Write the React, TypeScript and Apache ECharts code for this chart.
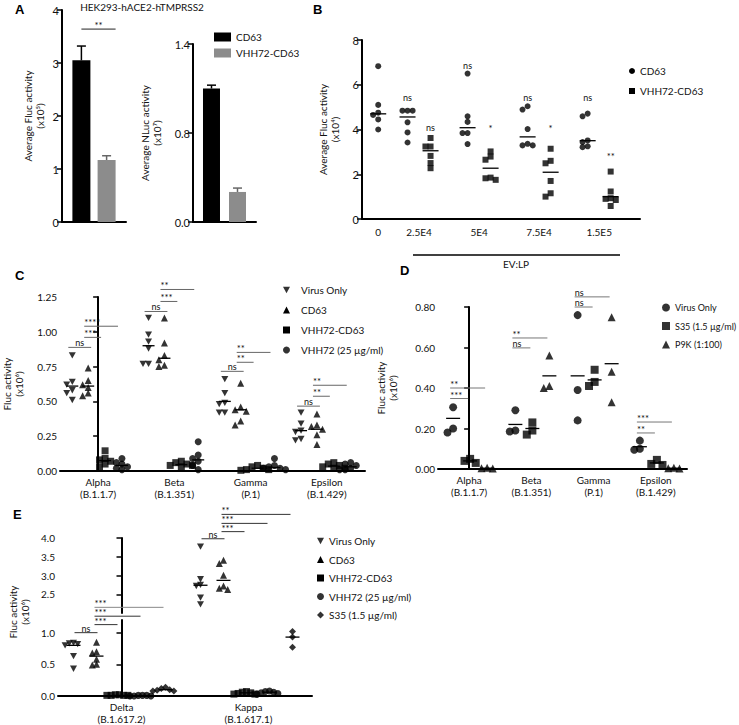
import React, { useEffect, useRef } from 'react';
import * as echarts from 'echarts';

const FONT = 'Lato, "Open Sans", "DejaVu Sans", sans-serif';
const BLACK = '#000';
const GRAY_BAR = '#8c8c8c';
const DOWN = 'path://M0,0L10,0L5,9Z';

// ---------------- Panel A ----------------
const aGroups = ['CD63', 'VHH72-CD63'];
const aFlucMean = [3.05, 1.17];
const aFlucErr = [0.27, 0.08];
const aNlucMean = [1.2, 0.27];
const aNlucErr = [0.03, 0.035];
const aFlucTicks = ['0', '1', '2', '3', '4'];
const aNlucTickLabels = ['0.0', '0.8', '1.4'];
const aTitle = 'HEK293-hACE2-hTMPRSS2';
const aSigY = 3.64;
const aSigLabel = '**';

// ---------------- Panel B ----------------
const bCategories = ['0', '2.5E4', '5E4', '7.5E4', '1.5E5'];
const bSeriesNames = ['CD63', 'VHH72-CD63'];
const bCD63 = [
  [6.83, 5.1, 4.75, 4.65, 4.45, 4.0],
  [4.84, 4.84, 4.84, 4.32, 3.87, 3.42],
  [6.5, 4.59, 4.34, 3.84, 3.84, 3.35],
  [5.04, 4.89, 4.02, 3.36, 3.29, 3.29],
  [4.71, 4.59, 3.51, 3.44, 3.25, 3.21],
];
const bVHH = [
  [],
  [3.62, 3.24, 3.24, 2.82, 2.5, 2.27],
  [3.02, 2.79, 2.65, 1.85, 1.82, 1.75],
  [3.14, 2.6, 2.49, 1.7, 1.15, 1.0],
  [2.12, 1.23, 0.93, 0.9, 0.85, 0.58],
];
const bCD63Median = [4.7, 4.56, 4.08, 3.67, 3.5];
const bVHHMedian = [NaN, 3.05, 2.27, 2.09, 1.0];
const bCD63Sig = ['', 'ns', 'ns', 'ns', 'ns'];
const bCD63SigY = [0, 5.45, 6.9, 5.45, 5.45];
const bVHHSig = ['', 'ns', '*', '*', '**'];
const bVHHSigY = [0, 4.1, 4.1, 4.1, 2.85];
const bXTitle = 'EV:LP';

// ---------------- Panel C ----------------
const cVariants = ['Alpha', 'Beta', 'Gamma', 'Epsilon'];
const cLineages = ['(B.1.1.7)', '(B.1.351)', '(P.1)', '(B.1.429)'];
const cSeriesNames = ['Virus Only', 'CD63', 'VHH72-CD63', 'VHH72 (25 µg/ml)'];
const cVirus = [
  [0.83, 0.64, 0.62, 0.58, 0.56, 0.51],
  [1.1, 0.98, 0.93, 0.88, 0.77, 0.77],
  [0.66, 0.56, 0.49, 0.48, 0.42, 0.42],
  [0.42, 0.34, 0.29, 0.28, 0.23, 0.22],
];
const cCD63 = [
  [0.74, 0.65, 0.62, 0.6, 0.56, 0.54],
  [1.1, 0.92, 0.83, 0.8, 0.76, 0.75],
  [0.63, 0.46, 0.44, 0.43, 0.36, 0.33],
  [0.41, 0.33, 0.32, 0.3, 0.26, 0.19],
];
const cVHHCD63 = [
  [0.145, 0.09, 0.08, 0.07, 0.05, 0.03],
  [0.07, 0.06, 0.05, 0.04, 0.04, 0.03],
  [0.04, 0.03, 0.02, 0.01, 0.01, 0.005],
  [0.06, 0.05, 0.04, 0.03, 0.02, 0.02],
];
const cVHH72 = [
  [0.09, 0.06, 0.05, 0.03, 0.02, 0.01],
  [0.21, 0.115, 0.09, 0.07, 0.04, 0.01],
  [0.09, 0.04, 0.03, 0.02, 0.02, 0.01],
  [0.06, 0.05, 0.04, 0.02, 0.01, 0.01],
];
const cMedVirus = [0.61, 0.9, 0.5, 0.29];
const cMedCD63 = [0.61, 0.81, 0.44, 0.3];
const cMedVHHCD63 = [0.075, 0.045, 0.02, 0.035];
const cMedVHH72 = [0.04, 0.08, 0.025, 0.03];
// [variant, from series, to series, y, label]
const cBrackets: any[] = [
  [0, 0, 1, 0.888, 'ns'], [0, 1, 2, 0.96, '***'], [0, 1, 3, 1.04, '****'],
  [1, 0, 1, 1.146, 'ns'], [1, 1, 2, 1.218, '***'], [1, 1, 3, 1.304, '**'],
  [2, 0, 1, 0.716, 'ns'], [2, 1, 2, 0.781, '**'], [2, 1, 3, 0.852, '**'],
  [3, 0, 1, 0.466, 'ns'], [3, 1, 2, 0.537, '**'], [3, 1, 3, 0.616, '**'],
];

// ---------------- Panel D ----------------
const dVariants = ['Alpha', 'Beta', 'Gamma', 'Epsilon'];
const dLineages = ['(B.1.1.7)', '(B.1.351)', '(P.1)', '(B.1.429)'];
const dSeriesNames = ['Virus Only', 'S35 (1.5 µg/ml)', 'P9K (1:100)'];
const dVirus = [[0.305, 0.2, 0.18], [0.29, 0.19, 0.185], [0.76, 0.39, 0.24], [0.14, 0.1, 0.095]];
const dS35 = [[0.05, 0.04, 0.03], [0.23, 0.19, 0.17], [0.49, 0.43, 0.41], [0.045, 0.025, 0.02]];
const dP9K = [[0.006, 0.004, 0.002], [0.56, 0.41, 0.4], [0.75, 0.48, 0.33], [0.006, 0.004, 0.002]];
const dMeanVirus = [0.25, 0.22, 0.46, 0.11];
const dMeanS35 = [0.04, 0.2, 0.44, 0.03];
const dMeanP9K = [0.004, 0.46, 0.52, 0.004];
const dBrackets: any[] = [
  [0, 0, 2, 0.4, '**'], [0, 0, 1, 0.348, '***'],
  [1, 0, 2, 0.647, '**'], [1, 0, 1, 0.598, 'ns'],
  [2, 0, 2, 0.85, 'ns'], [2, 0, 1, 0.8, 'ns'],
  [3, 0, 2, 0.232, '***'], [3, 0, 1, 0.178, '**'],
];

// ---------------- Panel E ----------------
const eVariants = ['Delta', 'Kappa'];
const eLineages = ['(B.1.617.2)', '(B.1.617.1)'];
const eSeriesNames = ['Virus Only', 'CD63', 'VHH72-CD63', 'VHH72 (25 µg/ml)', 'S35 (1.5 µg/ml)'];
const eVirus = [[0.84, 0.83, 0.82, 0.8, 0.63, 0.43], [3.77, 2.9, 2.75, 2.72, 2.41, 2.23]];
const eCD63 = [[0.85, 0.7, 0.68, 0.58, 0.5, 0.49], [3.41, 3.32, 3.01, 2.72, 2.66, 2.63]];
const eVHHCD63 = [[0.02, 0.02, 0.01, 0.01, 0.01, 0.01], [0.07, 0.06, 0.05, 0.04, 0.03, 0.03]];
const eVHH72 = [[0.01, 0.01, 0.01, 0.0, 0.0, 0.0], [0.08, 0.07, 0.06, 0.05, 0.04, 0.03]];
const eS35 = [[0.14, 0.12, 0.1, 0.09, 0.08, 0.08], [1.02, 0.93, 0.77]];
const eMedVirus = [0.8, 2.74];
const eMedCD63 = [0.63, 2.87];
const eMedVHHCD63 = [0.01, 0.05];
const eMedVHH72 = [0.005, 0.06];
const eMedS35 = [0.1, 0.93];
const eBracketsLower: any[] = [
  [0, 0, 1, 1.0, 'ns'], [0, 1, 2, 1.127, '***'], [0, 1, 3, 1.26, '***'], [0, 1, 4, 1.4, '***'],
];
const eBracketsUpper: any[] = [
  [1, 0, 1, 3.98, 'ns'], [1, 1, 2, 4.17, '***'], [1, 1, 3, 4.39, '***'], [1, 1, 4, 4.63, '**'],
];

// ---------------- layout constants ----------------
const bGroupPos = [0.32, 1, 2, 3, 4];
const B_PXX = 60, B_PXY = 22.35;
const C_PXX = 76.75, C_PXY = 139.6;
const D_PXX = 62.25, D_PXY = 202.5;
const E_PXX = 127, E_PXY_UP = 37.5, E_PXY_LOW = 63.3;
const cColPx = [-26, -10, 7, 24];
const dColPx = [-16, 1, 18];
const eColPx = [-48, -25, -2, 21, 44];

function swarm(vals: number[], pxPerY: number, size: number, k: number): number[] {
  const order = vals.map((_, i) => i).sort((a, b) => vals[b] - vals[a]);
  const placed: number[][] = [];
  const out = new Array(vals.length).fill(0);
  const steps = [0, -1, 1, -2, 2, -3, 3, -4, 4, -5, 5];
  const d = size * k;
  for (const i of order) {
    const y = vals[i] * pxPerY;
    for (const s of steps) {
      const x = s * d;
      if (placed.every((p) => Math.hypot(p[0] - x, p[1] - y) >= d * 0.98)) {
        out[i] = x;
        placed.push([x, y]);
        break;
      }
    }
  }
  return out;
}

function points(groups: number[][], centers: number[], colPx: (g: number) => number, pxX: number, pxY: number, size: number, k: number, keep: (v: number) => boolean = () => true) {
  const data: number[][] = [];
  groups.forEach((vals, g) => {
    const sel = vals.filter(keep);
    const offs = swarm(sel, pxY, size, k);
    sel.forEach((v, i) => data.push([centers[g] + (colPx(g) + offs[i]) / pxX, v]));
  });
  return data;
}

function medianSeries(xi: number, yi: number, pts: number[][], hw: number) {
  return {
    type: 'custom', xAxisIndex: xi, yAxisIndex: yi, clip: false, silent: true, z: 3,
    data: pts,
    renderItem: (_p: any, api: any) => {
      const c = api.coord([api.value(0), api.value(1)]);
      return { type: 'line', shape: { x1: c[0] - hw, y1: c[1], x2: c[0] + hw, y2: c[1] }, style: { stroke: BLACK, lineWidth: 1.3 } };
    },
  };
}

function sigText(x: number, y: number, label: string, align: string) {
  const star = label.includes('*');
  return {
    type: 'text', x, y: y + (star ? 1.5 : 0.5),
    style: { text: label, fill: '#111', font: `${star ? 9.5 : 9}px ${FONT}`, lineHeight: 7, align, verticalAlign: 'middle' },
  };
}

function bracketSeries(xi: number, yi: number, defs: any[], colPx: number[], pxX: number, cfg: any) {
  const items = defs.map((d, i) => {
    const [g, f, t, y, label] = d;
    const ns = label === 'ns';
    return {
      x1: g + (colPx[f] + (ns ? cfg.nsPadL : cfg.padL)) / pxX,
      x2: g + (colPx[t] + (ns ? cfg.nsPadR : cfg.padR)) / pxX,
      y, label,
      align: ns ? cfg.nsAlign : 'left',
      color: cfg.color(i),
    };
  });
  return {
    type: 'custom', xAxisIndex: xi, yAxisIndex: yi, clip: false, silent: true, z: 4,
    data: items.map((b) => [b.x1, b.y, b.x2]),
    renderItem: (p: any, api: any) => {
      const b = items[p.dataIndex];
      const a = api.coord([b.x1, b.y]);
      const c = api.coord([b.x2, b.y]);
      return {
        type: 'group',
        children: [
          { type: 'line', shape: { x1: a[0], y1: a[1], x2: c[0], y2: a[1] }, style: { stroke: b.color, lineWidth: 1 } },
          sigText(b.align === 'center' ? (a[0] + c[0]) / 2 : a[0], a[1] - 5, b.label, b.align),
        ],
      };
    },
  };
}

function yAxis(gridIndex: number, min: number, max: number, interval: number, formatter: any, extra: any = {}, labelExtra: any = {}) {
  return {
    type: 'value', gridIndex, min, max, interval,
    axisLine: { show: true, lineStyle: { color: BLACK, width: 2 } },
    axisTick: { show: true, length: 5, lineStyle: { color: BLACK, width: 1.5 } },
    axisLabel: { color: '#111', fontSize: 10, fontFamily: FONT, margin: 3, formatter, ...labelExtra },
    splitLine: { show: false },
    nameLocation: 'middle', nameRotate: 90,
    nameTextStyle: { color: '#111', fontSize: 10, lineHeight: 12, fontFamily: FONT },
    ...extra,
  };
}

function catX(gridIndex: number, data: string[], showLabel: boolean) {
  return {
    type: 'category', gridIndex, data, boundaryGap: true,
    axisLine: { show: true, lineStyle: { color: BLACK, width: 2 } },
    axisTick: { show: false },
    axisLabel: { show: showLabel, color: '#111', fontSize: 10, fontFamily: FONT, margin: 5, lineHeight: 12, interval: 0 },
    splitLine: { show: false },
  };
}

function hidX(gridIndex: number, min: number, max: number) {
  return { type: 'value', gridIndex, min, max, show: false, splitLine: { show: false } };
}

function legendDef(left: number, top: number, size: number, gap: number, items: any[], textPad = 0, fontSize = 10) {
  return {
    orient: 'vertical', left, top, padding: 0, itemWidth: size, itemHeight: size, itemGap: gap,
    selectedMode: false,
    textStyle: { fontSize, fontFamily: FONT, color: '#111', padding: [0, 0, 0, textPad] },
    data: items,
  };
}

function buildOption() {
  const series: any[] = [];

  // ---- A bars ----
  const aColors = [BLACK, GRAY_BAR];
  const aErrColors = [BLACK, '#666'];
  [0, 1].forEach((i) => {
    series.push({ type: 'bar', name: aGroups[i], xAxisIndex: 0, yAxisIndex: 0, data: [aFlucMean[i]], barWidth: 18, barGap: '40%', itemStyle: { color: aColors[i] } });
  });
  [0, 1].forEach((i) => {
    series.push({ type: 'bar', name: aGroups[i], xAxisIndex: 1, yAxisIndex: 1, data: [aNlucMean[i]], barWidth: 17, barGap: '53%', itemStyle: { color: aColors[i] } });
  });
  const errSeries = (xi: number, means: number[], errs: number[], spacing: number) => ({
    type: 'custom', xAxisIndex: xi, yAxisIndex: xi, clip: false, silent: true, z: 3,
    data: means.map((m, i) => [0, m, m + errs[i], i]),
    renderItem: (_p: any, api: any) => {
      const idx = api.value(3);
      const c0 = api.coord([0, api.value(1)]);
      const c1 = api.coord([0, api.value(2)]);
      const x = c0[0] + (idx - 0.5) * spacing;
      const st = { stroke: aErrColors[idx], lineWidth: 1.5 };
      return {
        type: 'group',
        children: [
          { type: 'line', shape: { x1: x, y1: c0[1], x2: x, y2: c1[1] }, style: st },
          { type: 'line', shape: { x1: x - 4.5, y1: c1[1], x2: x + 4.5, y2: c1[1] }, style: st },
        ],
      };
    },
  });
  series.push(errSeries(0, aFlucMean, aFlucErr, 25.2));
  series.push(errSeries(1, aNlucMean, aNlucErr, 26));
  series.push({
    type: 'custom', xAxisIndex: 0, yAxisIndex: 0, clip: false, silent: true,
    data: [[0, aSigY]],
    renderItem: (_p: any, api: any) => {
      const c = api.coord([0, api.value(1)]);
      const x1 = c[0] - 12.6, x2 = c[0] + 12.6 + 9;
      return {
        type: 'group',
        children: [
          { type: 'line', shape: { x1, y1: c[1], x2, y2: c[1] }, style: { stroke: '#222', lineWidth: 1 } },
          sigText((x1 + x2) / 2, c[1] - 5, aSigLabel, 'center'),
        ],
      };
    },
  });

  // ---- B ----
  const bColOff = (g: number) => (bVHH[g].length ? -11.5 : 0);
  series.push({
    type: 'scatter', name: bSeriesNames[0], xAxisIndex: 2, yAxisIndex: 2, symbol: 'circle', symbolSize: 6,
    itemStyle: { color: BLACK }, data: points(bCD63, bGroupPos, bColOff, B_PXX, B_PXY, 6, 0.85),
  });
  series.push({
    type: 'scatter', name: bSeriesNames[1], xAxisIndex: 2, yAxisIndex: 2, symbol: 'rect', symbolSize: 6,
    itemStyle: { color: BLACK }, data: points(bVHH, bGroupPos, () => 11.5, B_PXX, B_PXY, 6, 0.85),
  });
  series.push(medianSeries(2, 2, bCD63Median.map((m, g) => [bGroupPos[g] + bColOff(g) / B_PXX, m]), 8));
  series.push(medianSeries(2, 2, bVHHMedian.map((m, g) => [bGroupPos[g] + 11.5 / B_PXX, m]).filter((p) => !isNaN(p[1])), 8));
  const bSigItems: any[] = [];
  bCategories.forEach((_c, g) => {
    if (bCD63Sig[g]) bSigItems.push({ x: bGroupPos[g] + bColOff(g) / B_PXX, y: bCD63SigY[g], label: bCD63Sig[g] });
    if (bVHHSig[g]) bSigItems.push({ x: bGroupPos[g] + 11.5 / B_PXX, y: bVHHSigY[g], label: bVHHSig[g] });
  });
  series.push({
    type: 'custom', xAxisIndex: 2, yAxisIndex: 2, clip: false, silent: true, z: 4,
    data: bSigItems.map((s) => [s.x, s.y]),
    renderItem: (p: any, api: any) => {
      const s = bSigItems[p.dataIndex];
      const c = api.coord([s.x, s.y]);
      return sigText(c[0], c[1], s.label, 'center');
    },
  });

  // ---- C ----
  const cAll = [cVirus, cCD63, cVHHCD63, cVHH72];
  const cMed = [cMedVirus, cMedCD63, cMedVHHCD63, cMedVHH72];
  const cSym = [DOWN, 'triangle', 'rect', 'circle'];
  const cCenters = [0, 1, 2, 3];
  cAll.forEach((groups, s) => {
    series.push({
      type: 'scatter', name: cSeriesNames[s], xAxisIndex: 4, yAxisIndex: 3, symbol: cSym[s], symbolSize: 7, symbolKeepAspect: true,
      itemStyle: { color: BLACK }, data: points(groups, cCenters, () => cColPx[s], C_PXX, C_PXY, 7, 0.8),
    });
    series.push(medianSeries(4, 3, cMed[s].map((m, g) => [g + cColPx[s] / C_PXX, m]), 6));
  });
  series.push(bracketSeries(4, 3, cBrackets, cColPx, C_PXX, { padL: -4, padR: -4, nsPadL: -4, nsPadR: 3, nsAlign: 'center', color: () => '#666' }));

  // ---- D ----
  const dAll = [dVirus, dS35, dP9K];
  const dMed = [dMeanVirus, dMeanS35, dMeanP9K];
  const dSym = ['circle', 'rect', 'triangle'];
  dAll.forEach((groups, s) => {
    series.push({
      type: 'scatter', name: dSeriesNames[s], xAxisIndex: 6, yAxisIndex: 4, symbol: dSym[s], symbolSize: 8,
      itemStyle: { color: BLACK }, data: points(groups, cCenters, () => dColPx[s], D_PXX, D_PXY, 8, 0.7),
    });
    series.push(medianSeries(6, 4, dMed[s].map((m, g) => [g + dColPx[s] / D_PXX, m]), 7));
  });
  series.push(bracketSeries(6, 4, dBrackets, dColPx, D_PXX, { padL: -3, padR: -2, nsPadL: -3, nsPadR: -2, nsAlign: 'left', color: () => '#777' }));

  // ---- E ----
  const eAll = [eVirus, eCD63, eVHHCD63, eVHH72, eS35];
  const eMed = [eMedVirus, eMedCD63, eMedVHHCD63, eMedVHH72, eMedS35];
  const eSym = [DOWN, 'triangle', 'rect', 'circle', 'diamond'];
  const eCenters = [0, 1];
  const isUp = (v: number) => v > 1.5;
  eAll.forEach((groups, s) => {
    const up = points(groups, eCenters, () => eColPx[s], E_PXX, E_PXY_UP, 7, 0.6, isUp);
    const low = points(groups, eCenters, () => eColPx[s], E_PXX, E_PXY_LOW, 7, 0.6, (v) => !isUp(v));
    if (up.length) series.push({ type: 'scatter', name: eSeriesNames[s], xAxisIndex: 7, yAxisIndex: 5, symbol: eSym[s], symbolSize: 7, symbolKeepAspect: true, itemStyle: { color: BLACK }, data: up });
    if (low.length) series.push({ type: 'scatter', name: eSeriesNames[s], xAxisIndex: 9, yAxisIndex: 6, symbol: eSym[s], symbolSize: 7, symbolKeepAspect: true, itemStyle: { color: BLACK }, data: low });
    const mp = eMed[s].map((m, g) => [g + eColPx[s] / E_PXX, m]);
    const mu = mp.filter((p) => isUp(p[1]));
    const ml = mp.filter((p) => !isUp(p[1]));
    if (mu.length) series.push(medianSeries(7, 5, mu, 7));
    if (ml.length) series.push(medianSeries(9, 6, ml, 7));
  });
  series.push(bracketSeries(9, 6, eBracketsLower, eColPx, E_PXX, { padL: -2, padR: -2, nsPadL: 1, nsPadR: 1, nsAlign: 'center', color: (i: number) => (i === 3 ? '#888' : '#333') }));
  series.push(bracketSeries(7, 5, eBracketsUpper, eColPx, E_PXX, { padL: -2, padR: -2, nsPadL: 1, nsPadR: 1, nsAlign: 'center', color: () => '#333' }));

  const fmt2 = (v: number) => v.toFixed(2);
  const fmt1 = (v: number) => v.toFixed(1);
  const letter = (t: string, x: number, y: number) => ({
    type: 'text', x, y, style: { text: t, font: 'bold 13px "Liberation Sans", Arial, sans-serif', fill: BLACK, align: 'left', verticalAlign: 'top' },
  });

  return {
    animation: false,
    textStyle: { fontFamily: FONT },
    grid: [
      { left: 62, top: 10, width: 64, height: 212 },
      { left: 193, top: 44, width: 63, height: 178 },
      { left: 362, top: 40, width: 278, height: 179 },
      { left: 58, top: 297, width: 307, height: 174 },
      { left: 438, top: 307, width: 249, height: 162 },
      { left: 58, top: 538, width: 254, height: 75 },
      { left: 58, top: 620, width: 254, height: 76 },
    ],
    xAxis: [
      catX(0, [''], false),
      catX(1, [''], false),
      {
        type: 'value', gridIndex: 2, min: 0.05, max: 4.68,
        axisLine: { show: true, lineStyle: { color: BLACK, width: 2 } },
        axisTick: { show: false }, splitLine: { show: false },
        axisLabel: {
          customValues: bGroupPos, color: '#111', fontSize: 10, fontFamily: FONT, margin: 8,
          formatter: (v: number) => {
            const i = bGroupPos.findIndex((p) => Math.abs(p - v) < 1e-6);
            return i >= 0 ? bCategories[i] : '';
          },
        },
      },
      catX(3, cVariants.map((v, i) => `${v}\n${cLineages[i]}`), true),
      hidX(3, -0.5, cVariants.length - 0.5),
      catX(4, dVariants.map((v, i) => `${v}\n${dLineages[i]}`), true),
      hidX(4, -0.5, dVariants.length - 0.5),
      hidX(5, -0.5, eVariants.length - 0.5),
      catX(6, eVariants.map((v, i) => `${v}\n${eLineages[i]}`), true),
      hidX(6, -0.5, eVariants.length - 0.5),
    ],
    yAxis: [
      yAxis(0, 0, 4, 1, (v: number) => aFlucTicks[Math.round(v)] ?? '', { name: 'Average Fluc activity\n(x10⁵)', nameGap: 16 }, { fontSize: 11 }),
      yAxis(1, 0, 1.6, 0.8, (v: number) => aNlucTickLabels[Math.round(v / 0.8)] ?? '', { name: 'Average NLuc activity\n(x10⁷)', nameGap: 30 }, { fontSize: 11 }),
      yAxis(2, 0, 8, 2, (v: number) => String(v), { name: 'Average Fluc activity\n(x10⁴)', nameGap: 21 }, { fontSize: 11 }),
      yAxis(3, 0, 1.25, 0.25, fmt2, { name: 'Fluc activity\n(x10⁶)', nameGap: 35 }),
      yAxis(4, 0, 0.8, 0.2, fmt2, { name: 'Fluc activity\n(x10⁶)', nameGap: 39 }),
      yAxis(5, 2, 4, 0.5, fmt1, {}, { showMinLabel: false }),
      yAxis(6, 0, 1.2, 0.5, fmt1, {}, { showMaxLabel: false }),
    ],
    legend: [
      { ...legendDef(214, 32, 9, 6, [
        { name: aGroups[0], icon: 'rect', itemStyle: { color: BLACK } },
        { name: aGroups[1], icon: 'rect', itemStyle: { color: GRAY_BAR } },
      ]), itemWidth: 17, itemHeight: 9 },
      legendDef(629, 66, 6, 10, [
        { name: bSeriesNames[0], icon: 'circle', itemStyle: { color: BLACK } },
        { name: bSeriesNames[1], icon: 'rect', itemStyle: { color: BLACK } },
      ]),
      legendDef(283, 285, 7, 10, cSeriesNames.map((n, i) => ({ name: n, icon: cSym[i], itemStyle: { color: BLACK } })), 6),
      legendDef(662, 303, 8, 9.5, dSeriesNames.map((n, i) => ({ name: n, icon: dSym[i], itemStyle: { color: BLACK } })), 0, 9),
      legendDef(317, 536, 7, 8.5, eSeriesNames.map((n, i) => ({ name: n, icon: eSym[i], itemStyle: { color: BLACK } }))),
    ],
    series,
    graphic: [
      letter('A', 15, 3),
      letter('B', 313, 3),
      letter('C', 15, 269),
      letter('D', 400, 264),
      letter('E', 13, 508),
      { type: 'text', x: 142, y: 2, style: { text: aTitle, font: `10px ${FONT}`, fill: '#111', align: 'center', verticalAlign: 'top' } },
      { type: 'line', shape: { x1: 413, y1: 255, x2: 620, y2: 255 }, style: { stroke: BLACK, lineWidth: 1.5 } },
      { type: 'text', x: 516, y: 259, style: { text: bXTitle, font: `10px ${FONT}`, fill: '#111', align: 'center', verticalAlign: 'top' } },
      {
        type: 'text', x: 19, y: 612, rotation: Math.PI / 2,
        style: { text: 'Fluc activity\n(x10⁶)', font: `10px ${FONT}`, lineHeight: 12, fill: '#111', align: 'center', verticalAlign: 'middle' },
      },
    ],
  };
}

export default function App() {
  const ref = useRef<HTMLDivElement>(null);
  useEffect(() => {
    document.body.style.margin = '0';
    const chart = echarts.init(ref.current!, null, { renderer: 'svg' });
    chart.setOption(buildOption() as any);
    return () => chart.dispose();
  }, []);
  return <div ref={ref} style={{ width: 739, height: 725 }} />;
}
